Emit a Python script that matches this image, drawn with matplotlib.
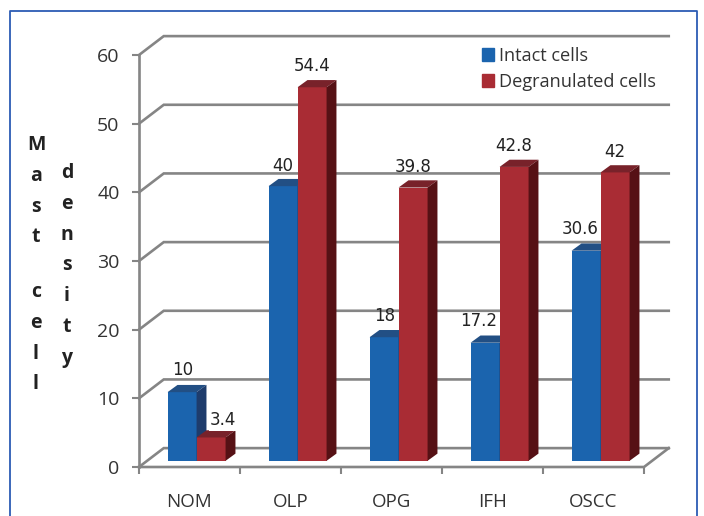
import matplotlib.pyplot as plt
from matplotlib.patches import Rectangle

categories = ['NOM', 'OLP', 'OPG', 'IFH', 'OSCC']
intact = [10, 40, 18, 17.2, 30.6]
degranulated = [3.4, 54.4, 39.8, 42.8, 42]
y_ticks = [0, 10, 20, 30, 40, 50, 60]

W, H = 704, 516
GREY = '#858585'
# depth of the fake 3d box and of the bars, in data units
BOX_DX, BOX_DY = 0.245, 2.75
BAR_DX, BAR_DY = 0.098, 1.05
FLOOR = 0.9
BAR_W = 0.287

plt.rcParams['font.family'] = ['Open Sans', 'DejaVu Sans']
fig = plt.figure(figsize=(W / 100, H / 100), dpi=100)
ax = fig.add_axes([139 / W, (H - 467) / H, (644 - 139) / W, (467 - 55) / H])
ax.set_xlim(0, 5)
ax.set_ylim(0, 60)
for s in ax.spines.values():
    s.set_visible(False)

# back wall lines and the diagonals
for v in y_ticks:
    ax.plot([0, BOX_DX, 5 + BOX_DX], [v, v + BOX_DY, v + BOX_DY], color=GREY,
            lw=1.9, clip_on=False, zorder=1, solid_joinstyle='miter')
ax.plot([0, 0], [0, 60], color=GREY, lw=1.9, clip_on=False, zorder=1)
ax.plot([0, 5, 5 + BOX_DX], [0, 0, BOX_DY], color=GREY, lw=1.9, clip_on=False, zorder=1)

ax.set_yticks(y_ticks)
ax.set_xticks(range(6))
ax.set_xticklabels([])
ax.tick_params(axis='y', length=5, width=1.5, color=GREY, pad=9, labelsize=14, labelcolor='#333333')
ax.tick_params(axis='x', length=5, width=1.5, color=GREY)
for i, c in enumerate(categories):
    ax.annotate(c, (i + 0.5, 0), xytext=(0, -25), textcoords='offset points', ha='center',
                va='center', fontsize=13.5, color='#333333', annotation_clip=False)


def draw_bar(x, val, front, top, side, z):
    ax.bar(x, val, BAR_W, bottom=FLOOR, color=front, zorder=z)
    l, r = x - BAR_W / 2, x + BAR_W / 2
    t = FLOOR + val
    ax.fill([l, r, r + BAR_DX, l + BAR_DX], [t, t, t + BAR_DY, t + BAR_DY], color=top, lw=0, zorder=z)
    ax.fill([r, r + BAR_DX, r + BAR_DX, r], [FLOOR, FLOOR + BAR_DY, t + BAR_DY, t], color=side, lw=0, zorder=z)


for i in range(5):
    c = i + 0.57
    draw_bar(c - BAR_W / 2, intact[i], '#1b64ae', '#224f84', '#1e3c6c', 3 + 2 * i)
    draw_bar(c + BAR_W / 2, degranulated[i], '#a92c34', '#78222a', '#561115', 4 + 2 * i)

# label nudges in pixels, the original chart moved a few by hand
intact_nudge = [(1, 22), (0, 20), (1, 21), (-6, 22), (-6, 22)]
degran_nudge = [(12, 17), (0, 21), (0, 21), (0, 21), (0, 20)]
for i in range(5):
    c = i + 0.57
    for x, val, (nx, ny) in [(c - BAR_W / 2, intact[i], intact_nudge[i]),
                             (c + BAR_W / 2, degranulated[i], degran_nudge[i])]:
        boxed = val in (3.4, 30.6)
        ax.annotate(str(val), (x, val + FLOOR), xytext=(nx * 0.72, ny * 0.72), textcoords='offset points',
                    ha='center', va='center', fontsize=12, family='DejaVu Sans', color='#222222',
                    zorder=2 if not boxed else 30, annotation_clip=False,
                    bbox=dict(fc='white', ec='none', pad=0.8) if boxed else None)

h1 = Rectangle((0, 0), 1, 1, color='#1b64ae')
h2 = Rectangle((0, 0), 1, 1, color='#a92c34')
ax.legend([h1, h2], ['Intact cells', 'Degranulated cells'], loc='upper left',
          bbox_to_anchor=(482 / W, (H - 47) / H), bbox_transform=fig.transFigure, frameon=False,
          fontsize=13.1, handlelength=0.66, handleheight=0.68, handletextpad=0.3,
          labelspacing=0.42, borderpad=0, borderaxespad=0, labelcolor='#333333')

# y title, split in columns of stacked letters
fig.text(36 / W, (H - 135) / H, 'M\na\ns\nt', ha='center', va='top', ma='center',
         fontsize=14, fontweight='bold', color='#222222', linespacing=1.72)
fig.text(36 / W, (H - 282) / H, 'c\ne\nl\nl', ha='center', va='top', ma='center',
         fontsize=14, fontweight='bold', color='#222222', linespacing=1.72)
fig.text(67 / W, (H - 163) / H, 'd\ne\nn\ns\ni\nt\ny', ha='center', va='top', ma='center',
         fontsize=14, fontweight='bold', color='#222222', linespacing=1.72)

# the source image is cropped just under the category labels
fig.add_artist(Rectangle((12 / W, 0), (694 - 12) / W, 8 / H, transform=fig.transFigure, fc='white', ec='none', zorder=20))
# blue frame, open at the bottom
fig.add_artist(plt.Line2D([9.5 / W, 9.5 / W, 696.5 / W, 696.5 / W], [0, (H - 10.5) / H, (H - 10.5) / H, 0],
                          color='#2c5cb4', lw=1.3, zorder=21))

fig.savefig('out.png', dpi=100)
